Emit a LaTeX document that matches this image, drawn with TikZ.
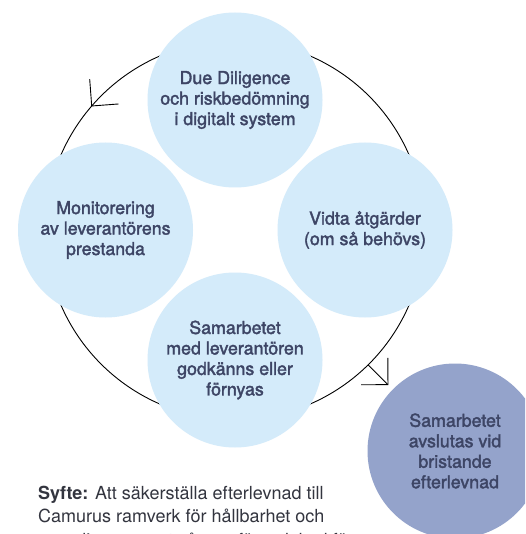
\documentclass[tikz,border=0pt]{standalone}
\usepackage{fontspec}
\setmainfont{TeX Gyre Heros}
\newfontfamily\medfont{TeX Gyre Heros}[FakeBold=2]
\usetikzlibrary{arrows.meta,decorations.markings}
\definecolor{stageblue}{HTML}{D4EBFA}
\definecolor{exitblue}{HTML}{94A3CB}
\definecolor{labelink}{HTML}{3D4565}
\definecolor{bodyink}{HTML}{33353F}
\tikzset{
  stage/.style={circle,fill=stageblue,minimum size=175pt,inner sep=0pt,align=center,
    text=labelink,font=\medfont\fontsize{17.8}{20.5}\selectfont},
  exitstage/.style={stage,fill=exitblue},
  barb/.tip={Straight Barb[length=19pt,width=38pt]},
  ring/.style={line width=0.9pt,postaction={decorate,decoration={markings,
    mark=at position 0.387 with {\arrow{barb}}}}},
}
\begin{document}
\begin{tikzpicture}[x=1pt,y=1pt]
\clip (0,0) rectangle (525,-534);
\fill[white] (0,0) rectangle (525,-534);

\coordinate (cyc) at (235,-230);
\draw[ring] (cyc) circle[radius=189.5];

\node[stage] (dd) at (235,-100) {Due Diligence\\och riskbedömning\\i digitalt system};
\node[stage] (monitor) at (105.5,-230) {Monitorering\\av leverantörens\\prestanda};
\node[stage] (act) at (365,-230) {Vidta åtgärder\\(om så behövs)};
\node[stage] (approve) at (235,-360) {Samarbetet\\med leverantören\\godkänns eller\\förnyas};
\node[exitstage] (stop) at (455,-451) {Samarbetet\\avslutas vid\\bristande\\efterlevnad};

\coordinate (exit) at ([shift={(-45.4:189.5)}]cyc);
\draw[line width=0.9pt,-barb,shorten >=6pt] (exit) -- (stop);

\node[anchor=north west,inner sep=0pt,align=left,text=bodyink,
  font=\fontsize{18}{23.5}\selectfont] (aim) at (38,-485.5)
  {\textbf{Syfte:} Att säkerställa efterlevnad till\\
   Camurus ramverk för hållbarhet och\\
   compliance samt vår uppförandekod för};
\end{tikzpicture}
\end{document}
